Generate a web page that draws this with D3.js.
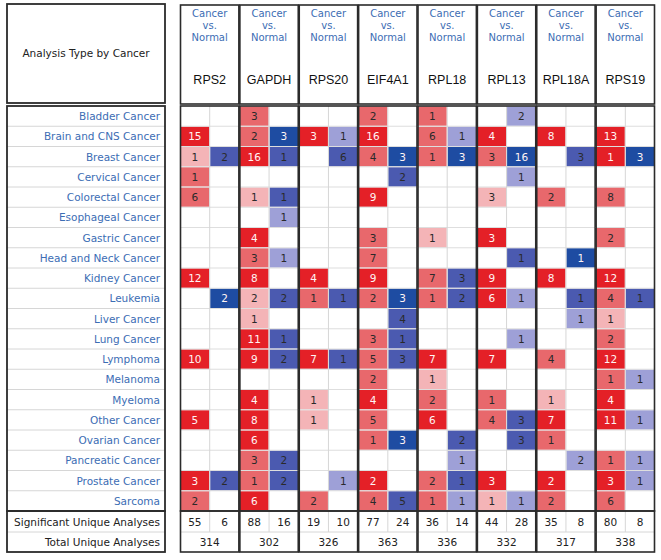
<!DOCTYPE html>
<html><head><meta charset="utf-8">
<script src="https://cdn.jsdelivr.net/npm/d3@7"></script>
<style>body{margin:0;background:#fff}svg{display:block}</style>
</head><body><svg id="c" width="661" height="560"></svg>
<script>
const cancers = ["Bladder Cancer","Brain and CNS Cancer","Breast Cancer","Cervical Cancer","Colorectal Cancer","Esophageal Cancer","Gastric Cancer","Head and Neck Cancer","Kidney Cancer","Leukemia","Liver Cancer","Lung Cancer","Lymphoma","Melanoma","Myeloma","Other Cancer","Ovarian Cancer","Pancreatic Cancer","Prostate Cancer","Sarcoma"];
const genes = ["RPS2","GAPDH","RPS20","EIF4A1","RPL18","RPL13","RPL18A","RPS19"];
const analysisType = ["Cancer","vs.","Normal"];
// over-expression counts (gene x cancer), 0 = none
const upCounts = [
 [0,15,1,1,6,0,0,0,12,0,0,0,10,0,0,5,0,0,3,2],
 [3,2,16,0,1,0,4,3,8,2,1,11,9,0,4,8,6,3,1,6],
 [0,3,0,0,0,0,0,0,4,1,0,0,7,0,1,1,0,0,0,2],
 [2,16,4,0,9,0,3,7,9,2,0,3,5,2,4,5,1,0,2,4],
 [1,6,1,0,0,0,1,0,7,1,0,0,7,1,2,6,0,0,2,1],
 [0,4,3,0,3,0,3,0,9,6,0,0,7,0,1,4,0,0,3,1],
 [0,8,0,0,2,0,0,0,8,0,0,0,4,0,1,7,1,0,2,2],
 [0,13,1,0,8,0,2,0,12,4,1,2,12,1,4,11,0,1,3,6]
];
// gene-rank shade level of each over-expression cell (1 light .. 3 strong)
const upShade = [
 [0,3,1,2,2,0,0,0,3,0,0,0,3,0,0,3,0,0,3,2],
 [2,2,3,0,1,0,3,2,3,1,1,3,3,0,3,3,3,2,2,3],
 [0,3,0,0,0,0,0,0,3,2,0,0,3,0,1,1,0,0,0,2],
 [2,3,2,0,3,0,2,2,3,2,0,2,2,2,3,2,2,0,3,2],
 [2,2,2,0,0,0,1,0,2,2,0,0,3,1,2,3,0,0,2,2],
 [0,3,2,0,1,0,3,0,3,3,0,0,3,0,2,2,0,0,3,1],
 [0,3,0,0,2,0,0,0,3,0,0,0,2,0,1,3,2,0,3,2],
 [0,3,3,0,2,0,2,0,3,2,1,2,3,2,3,3,0,2,3,2]
];
// under-expression counts
const downCounts = [
 [0,0,2,0,0,0,0,0,0,2,0,0,0,0,0,0,0,0,2,0],
 [0,3,1,0,1,1,0,1,0,2,0,1,2,0,0,0,0,2,2,0],
 [0,1,6,0,0,0,0,0,0,1,0,0,1,0,0,0,0,0,1,0],
 [0,0,3,2,0,0,0,0,0,3,4,1,3,0,0,0,3,0,0,5],
 [0,1,3,0,0,0,0,0,3,2,0,0,0,0,0,0,2,1,1,1],
 [2,0,16,1,0,0,0,1,0,1,0,1,0,0,0,3,3,0,0,1],
 [0,0,3,0,0,0,0,1,0,1,1,0,0,0,0,0,0,2,0,0],
 [0,0,3,0,0,0,0,0,0,1,0,0,0,1,0,1,0,1,1,0]
];
const downShade = [
 [0,0,2,0,0,0,0,0,0,3,0,0,0,0,0,0,0,0,2,0],
 [0,3,2,0,2,1,0,1,0,2,0,2,2,0,0,0,0,2,2,0],
 [0,1,2,0,0,0,0,0,0,2,0,0,2,0,0,0,0,0,1,0],
 [0,0,3,2,0,0,0,0,0,3,2,2,2,0,0,0,3,0,0,2],
 [0,1,3,0,0,0,0,0,2,2,0,0,0,0,0,0,2,1,2,1],
 [1,0,3,1,0,0,0,2,0,1,0,1,0,0,0,2,2,0,0,1],
 [0,0,2,0,0,0,0,3,0,2,1,0,0,0,0,0,0,1,0,0],
 [0,0,3,0,0,0,0,0,0,2,0,0,0,1,0,1,0,1,1,0]
];
const sigUp = [55,88,19,77,36,44,35,80];
const sigDown = [6,16,10,24,14,28,8,8];
const totalAnalyses = [314,302,326,363,336,332,317,338];

const svg = d3.select("#c");
const FONT = "DejaVu Sans, Verdana, sans-serif";
const BLUE_TXT = "#3c6db4";
const DARK = "#2b2b2b";
const GRID = "#d6d6d6";
const redC = d3.scaleOrdinal().domain([1,2,3]).range(["#f4b4b7","#e8686c","#e42027"]);
const blueC = d3.scaleOrdinal().domain([1,2,3]).range(["#9ea0d7","#4b5ab0","#1e4ca2"]);

const bodyTop = 106, bodyBot = 511, sigMid = 532, botY = 552, headTop = 5, headBot = 104;
const y = d3.scaleBand().domain(cancers).range([bodyTop, bodyBot]);
const x = d3.scaleBand().domain(genes).range([180, 655]);
const sub = d3.scaleBand().domain(["up","down"]).range([0, x.bandwidth()]);

// ---------- left table ----------
const L = svg.append("g");
const lx0 = 7, lx1 = 165;
L.append("text").attr("x", (lx0+lx1)/2).attr("y", 57).attr("text-anchor","middle")
  .attr("font-family",FONT).attr("font-size",10.5).attr("fill","#222").text("Analysis Type by Cancer");
L.selectAll("line.rg").data(cancers.slice(1)).join("line")
  .attr("x1",lx0).attr("x2",lx1).attr("y1",d=>y(d)).attr("y2",d=>y(d))
  .attr("stroke",GRID).attr("stroke-width",1);
L.selectAll("text.rl").data(cancers).join("text")
  .attr("x",160).attr("y",d=>y(d)+y.bandwidth()/2+4).attr("text-anchor","end")
  .attr("font-family",FONT).attr("font-size",10.5).attr("fill",BLUE_TXT).text(d=>d);
L.append("line").attr("x1",lx0).attr("x2",lx1).attr("y1",sigMid).attr("y2",sigMid).attr("stroke",GRID);
L.append("text").attr("x",160).attr("y",(bodyBot+sigMid)/2+4).attr("text-anchor","end")
  .attr("font-family",FONT).attr("font-size",10.5).attr("fill","#222").text("Significant Unique Analyses");
L.append("text").attr("x",160).attr("y",(sigMid+botY)/2+4).attr("text-anchor","end")
  .attr("font-family",FONT).attr("font-size",10.5).attr("fill","#222").text("Total Unique Analyses");
[[headTop-1,headBot-1],[bodyTop,bodyBot],[bodyBot,botY]].forEach(([a,b])=>{
  L.append("rect").attr("x",lx0).attr("y",a).attr("width",lx1-lx0).attr("height",b-a)
   .attr("fill","none").attr("stroke",DARK).attr("stroke-width",1.8);
});

// ---------- gene groups ----------
genes.forEach((g,gi)=>{
  const G = svg.append("g").attr("transform",`translate(${x(g)},0)`);
  const w = x.bandwidth();
  // header
  G.selectAll("text.at").data(analysisType).join("text")
    .attr("x",w/2).attr("y",(d,i)=>17+i*12).attr("text-anchor","middle")
    .attr("font-family",FONT).attr("font-size",10).attr("fill",BLUE_TXT).text(d=>d);
  G.append("text").attr("x",w/2).attr("y",84).attr("text-anchor","middle")
    .attr("font-family","Liberation Sans, Arial, sans-serif").attr("font-size",12.5).attr("fill","#111").text(g);

  const cells = [];
  cancers.forEach((c,ci)=>{
    if (upCounts[gi][ci]) cells.push({c, side:"up", v:upCounts[gi][ci], s:upShade[gi][ci]});
    if (downCounts[gi][ci]) cells.push({c, side:"down", v:downCounts[gi][ci], s:downShade[gi][ci]});
  });
  G.selectAll("rect.cell").data(cells).join("rect")
    .attr("x",d=>sub(d.side)+0.5).attr("y",d=>y(d.c)+0.5)
    .attr("width",sub.bandwidth()-1).attr("height",y.bandwidth()-1)
    .attr("fill",d=>d.side==="up"?redC(d.s):blueC(d.s));
  // grid
  G.selectAll("line.h").data(cancers.slice(1)).join("line")
    .attr("x1",0).attr("x2",w).attr("y1",d=>y(d)).attr("y2",d=>y(d))
    .attr("stroke",GRID).attr("stroke-width",1).attr("opacity",0.8);
  G.append("line").attr("x1",sub("down")).attr("x2",sub("down")).attr("y1",bodyTop).attr("y2",sigMid)
    .attr("stroke",GRID).attr("stroke-width",1);
  G.selectAll("text.cv").data(cells).join("text")
    .attr("x",d=>sub(d.side)+sub.bandwidth()/2).attr("y",d=>y(d.c)+y.bandwidth()/2+4)
    .attr("text-anchor","middle").attr("font-family",FONT).attr("font-size",10.5)
    .attr("fill",d=>d.s===3?"#fff4f4":"#2a2a2a").text(d=>d.v);
  // summary rows
  G.append("line").attr("x1",0).attr("x2",w).attr("y1",sigMid).attr("y2",sigMid).attr("stroke",GRID);
  G.selectAll("text.sg").data([["up",sigUp[gi]],["down",sigDown[gi]]]).join("text")
    .attr("x",d=>sub(d[0])+sub.bandwidth()/2).attr("y",(bodyBot+sigMid)/2+4).attr("text-anchor","middle")
    .attr("font-family",FONT).attr("font-size",10.5).attr("fill","#222").text(d=>d[1]);
  G.append("text").attr("x",w/2).attr("y",(sigMid+botY)/2+4).attr("text-anchor","middle")
    .attr("font-family",FONT).attr("font-size",10.5).attr("fill","#222").text(totalAnalyses[gi]);
  // borders
  [[headTop,headBot],[bodyTop,bodyBot],[bodyBot,botY]].forEach(([a,b])=>{
    G.append("rect").attr("x",0.5).attr("y",a).attr("width",w-1).attr("height",b-a)
     .attr("fill","none").attr("stroke",DARK).attr("stroke-width",1.6);
  });
});
</script></body></html>
